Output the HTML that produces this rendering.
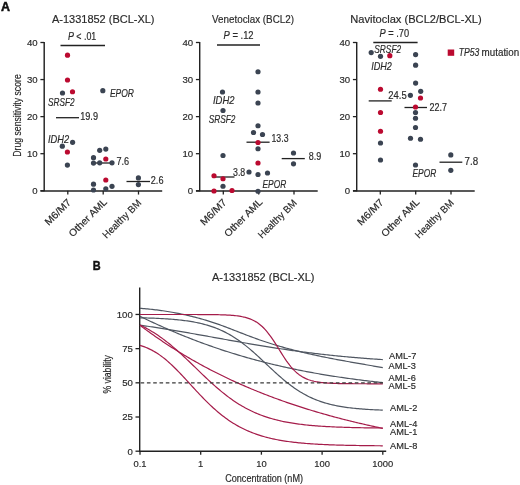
<!DOCTYPE html>
<html><head><meta charset="utf-8"><style>
html,body{margin:0;padding:0;background:#fff;}
svg{display:block;font-family:"Liberation Sans",sans-serif;}
text{fill:#2a2a2a;stroke:#2a2a2a;stroke-width:0.18px;}
</style></head><body>
<svg width="520" height="485" viewBox="0 0 520 485">
<rect width="520" height="485" fill="#fff"/>
<g opacity="0.999">
<text x="1.00" y="11.20" font-size="12.4" textLength="9.00" lengthAdjust="spacingAndGlyphs" font-weight="bold" style="fill:#111;stroke:#111;stroke-width:0.5px">A</text>
<line x1="44.20" y1="42.00" x2="44.20" y2="191.35" stroke="#222" stroke-width="1.45" />
<line x1="40.50" y1="191.00" x2="162.20" y2="191.00" stroke="#222" stroke-width="1.45" />
<line x1="40.40" y1="190.75" x2="44.20" y2="190.75" stroke="#222" stroke-width="1.3" />
<text x="37.70" y="194.05" font-size="9.6" text-anchor="end" >0</text>
<line x1="40.40" y1="153.69" x2="44.20" y2="153.69" stroke="#222" stroke-width="1.3" />
<text x="37.70" y="156.99" font-size="9.6" text-anchor="end" >10</text>
<line x1="40.40" y1="116.62" x2="44.20" y2="116.62" stroke="#222" stroke-width="1.3" />
<text x="37.70" y="119.92" font-size="9.6" text-anchor="end" >20</text>
<line x1="40.40" y1="79.56" x2="44.20" y2="79.56" stroke="#222" stroke-width="1.3" />
<text x="37.70" y="82.86" font-size="9.6" text-anchor="end" >30</text>
<line x1="40.40" y1="42.50" x2="44.20" y2="42.50" stroke="#222" stroke-width="1.3" />
<text x="37.70" y="45.80" font-size="9.6" text-anchor="end" >40</text>
<line x1="67.80" y1="190.75" x2="67.80" y2="194.55" stroke="#222" stroke-width="1.3" />
<line x1="103.20" y1="190.75" x2="103.20" y2="194.55" stroke="#222" stroke-width="1.3" />
<line x1="138.50" y1="190.75" x2="138.50" y2="194.55" stroke="#222" stroke-width="1.3" />
<text x="52.00" y="22.80" font-size="11.2" textLength="102.50" lengthAdjust="spacingAndGlyphs" >A-1331852 (BCL-XL)</text>
<text x="0" y="0" font-size="10" text-anchor="end" textLength="32.5" lengthAdjust="spacingAndGlyphs" transform="translate(71.80,203.05) rotate(-45)">M6/M7</text>
<text x="0" y="0" font-size="10" text-anchor="end" textLength="49.5" lengthAdjust="spacingAndGlyphs" transform="translate(107.70,202.55) rotate(-45)">Other AML</text>
<text x="0" y="0" font-size="10" text-anchor="end" textLength="50" lengthAdjust="spacingAndGlyphs" transform="translate(141.90,203.65) rotate(-45)">Healthy BM</text>
<line x1="199.70" y1="42.00" x2="199.70" y2="191.35" stroke="#222" stroke-width="1.45" />
<line x1="196.00" y1="191.00" x2="317.70" y2="191.00" stroke="#222" stroke-width="1.45" />
<line x1="195.90" y1="190.75" x2="199.70" y2="190.75" stroke="#222" stroke-width="1.3" />
<text x="193.20" y="194.05" font-size="9.6" text-anchor="end" >0</text>
<line x1="195.90" y1="153.69" x2="199.70" y2="153.69" stroke="#222" stroke-width="1.3" />
<text x="193.20" y="156.99" font-size="9.6" text-anchor="end" >10</text>
<line x1="195.90" y1="116.62" x2="199.70" y2="116.62" stroke="#222" stroke-width="1.3" />
<text x="193.20" y="119.92" font-size="9.6" text-anchor="end" >20</text>
<line x1="195.90" y1="79.56" x2="199.70" y2="79.56" stroke="#222" stroke-width="1.3" />
<text x="193.20" y="82.86" font-size="9.6" text-anchor="end" >30</text>
<line x1="195.90" y1="42.50" x2="199.70" y2="42.50" stroke="#222" stroke-width="1.3" />
<text x="193.20" y="45.80" font-size="9.6" text-anchor="end" >40</text>
<line x1="223.30" y1="190.75" x2="223.30" y2="194.55" stroke="#222" stroke-width="1.3" />
<line x1="258.70" y1="190.75" x2="258.70" y2="194.55" stroke="#222" stroke-width="1.3" />
<line x1="294.00" y1="190.75" x2="294.00" y2="194.55" stroke="#222" stroke-width="1.3" />
<text x="212.00" y="22.80" font-size="11.2" textLength="82.00" lengthAdjust="spacingAndGlyphs" >Venetoclax (BCL2)</text>
<text x="0" y="0" font-size="10" text-anchor="end" textLength="32.5" lengthAdjust="spacingAndGlyphs" transform="translate(227.30,203.05) rotate(-45)">M6/M7</text>
<text x="0" y="0" font-size="10" text-anchor="end" textLength="49.5" lengthAdjust="spacingAndGlyphs" transform="translate(263.20,202.55) rotate(-45)">Other AML</text>
<text x="0" y="0" font-size="10" text-anchor="end" textLength="50" lengthAdjust="spacingAndGlyphs" transform="translate(297.40,203.65) rotate(-45)">Healthy BM</text>
<line x1="356.70" y1="42.00" x2="356.70" y2="191.35" stroke="#222" stroke-width="1.45" />
<line x1="353.00" y1="191.00" x2="474.70" y2="191.00" stroke="#222" stroke-width="1.45" />
<line x1="352.90" y1="190.75" x2="356.70" y2="190.75" stroke="#222" stroke-width="1.3" />
<text x="350.20" y="194.05" font-size="9.6" text-anchor="end" >0</text>
<line x1="352.90" y1="153.69" x2="356.70" y2="153.69" stroke="#222" stroke-width="1.3" />
<text x="350.20" y="156.99" font-size="9.6" text-anchor="end" >10</text>
<line x1="352.90" y1="116.62" x2="356.70" y2="116.62" stroke="#222" stroke-width="1.3" />
<text x="350.20" y="119.92" font-size="9.6" text-anchor="end" >20</text>
<line x1="352.90" y1="79.56" x2="356.70" y2="79.56" stroke="#222" stroke-width="1.3" />
<text x="350.20" y="82.86" font-size="9.6" text-anchor="end" >30</text>
<line x1="352.90" y1="42.50" x2="356.70" y2="42.50" stroke="#222" stroke-width="1.3" />
<text x="350.20" y="45.80" font-size="9.6" text-anchor="end" >40</text>
<line x1="380.30" y1="190.75" x2="380.30" y2="194.55" stroke="#222" stroke-width="1.3" />
<line x1="415.70" y1="190.75" x2="415.70" y2="194.55" stroke="#222" stroke-width="1.3" />
<line x1="451.00" y1="190.75" x2="451.00" y2="194.55" stroke="#222" stroke-width="1.3" />
<text x="350.20" y="22.80" font-size="11.2" textLength="131.50" lengthAdjust="spacingAndGlyphs" >Navitoclax (BCL2/BCL-XL)</text>
<text x="0" y="0" font-size="10" text-anchor="end" textLength="32.5" lengthAdjust="spacingAndGlyphs" transform="translate(384.30,203.05) rotate(-45)">M6/M7</text>
<text x="0" y="0" font-size="10" text-anchor="end" textLength="49.5" lengthAdjust="spacingAndGlyphs" transform="translate(420.20,202.55) rotate(-45)">Other AML</text>
<text x="0" y="0" font-size="10" text-anchor="end" textLength="50" lengthAdjust="spacingAndGlyphs" transform="translate(454.40,203.65) rotate(-45)">Healthy BM</text>
<text x="0" y="0" font-size="11.6" text-anchor="middle" textLength="82.5" lengthAdjust="spacingAndGlyphs" transform="translate(20.7,115.5) rotate(-90)">Drug sensitivity score</text>
<line x1="60.50" y1="45.50" x2="105.00" y2="45.50" stroke="#222" stroke-width="1.3" />
<text x="67.90" y="40.10" font-size="10.2" textLength="28.40" lengthAdjust="spacingAndGlyphs" ><tspan font-style="italic">P</tspan> &lt; .01</text>
<line x1="217.00" y1="45.00" x2="260.00" y2="45.00" stroke="#222" stroke-width="1.3" />
<text x="223.60" y="38.70" font-size="10.2" textLength="30.00" lengthAdjust="spacingAndGlyphs" ><tspan font-style="italic">P</tspan> = .12</text>
<line x1="373.30" y1="42.50" x2="417.60" y2="42.50" stroke="#222" stroke-width="1.3" />
<text x="379.50" y="36.50" font-size="10.2" textLength="29.60" lengthAdjust="spacingAndGlyphs" ><tspan font-style="italic">P</tspan> = .70</text>
<line x1="56.00" y1="117.70" x2="79.00" y2="117.70" stroke="#222" stroke-width="1.3" />
<line x1="95.00" y1="163.00" x2="113.00" y2="163.00" stroke="#222" stroke-width="1.3" />
<line x1="126.50" y1="181.50" x2="150.00" y2="181.50" stroke="#222" stroke-width="1.3" />
<line x1="214.00" y1="177.00" x2="234.50" y2="177.00" stroke="#222" stroke-width="1.3" />
<line x1="246.50" y1="142.20" x2="269.60" y2="142.20" stroke="#222" stroke-width="1.3" />
<line x1="281.70" y1="158.60" x2="304.80" y2="158.60" stroke="#222" stroke-width="1.3" />
<line x1="368.70" y1="100.90" x2="391.70" y2="100.90" stroke="#222" stroke-width="1.3" />
<line x1="404.50" y1="107.50" x2="427.00" y2="107.50" stroke="#222" stroke-width="1.3" />
<line x1="439.50" y1="162.20" x2="462.30" y2="162.20" stroke="#222" stroke-width="1.3" />
<text x="80.20" y="119.80" font-size="10.2" textLength="17.80" lengthAdjust="spacingAndGlyphs" >19.9</text>
<text x="116.50" y="165.30" font-size="10.2" textLength="12.70" lengthAdjust="spacingAndGlyphs" >7.6</text>
<text x="150.80" y="184.30" font-size="10.2" textLength="12.70" lengthAdjust="spacingAndGlyphs" >2.6</text>
<text x="233.00" y="176.10" font-size="10.2" textLength="12.20" lengthAdjust="spacingAndGlyphs" >3.8</text>
<text x="271.50" y="141.50" font-size="10.2" textLength="17.00" lengthAdjust="spacingAndGlyphs" >13.3</text>
<text x="308.70" y="159.50" font-size="10.2" textLength="12.50" lengthAdjust="spacingAndGlyphs" >8.9</text>
<text x="388.30" y="98.70" font-size="10.2" textLength="18.40" lengthAdjust="spacingAndGlyphs" >24.5</text>
<text x="429.50" y="110.80" font-size="10.2" textLength="17.50" lengthAdjust="spacingAndGlyphs" >22.7</text>
<text x="464.60" y="165.00" font-size="10.2" textLength="13.60" lengthAdjust="spacingAndGlyphs" >7.8</text>
<circle cx="62.50" cy="93.00" r="2.6" fill="#3b4452"/>
<circle cx="102.80" cy="90.70" r="2.6" fill="#3b4452"/>
<circle cx="62.30" cy="146.20" r="2.6" fill="#3b4452"/>
<circle cx="72.60" cy="142.30" r="2.6" fill="#3b4452"/>
<circle cx="67.40" cy="165.10" r="2.6" fill="#3b4452"/>
<circle cx="99.70" cy="150.30" r="2.6" fill="#3b4452"/>
<circle cx="105.80" cy="149.10" r="2.6" fill="#3b4452"/>
<circle cx="93.50" cy="157.70" r="2.6" fill="#3b4452"/>
<circle cx="93.50" cy="163.10" r="2.6" fill="#3b4452"/>
<circle cx="99.70" cy="162.80" r="2.6" fill="#3b4452"/>
<circle cx="112.00" cy="162.80" r="2.6" fill="#3b4452"/>
<circle cx="93.50" cy="184.20" r="2.6" fill="#3b4452"/>
<circle cx="112.00" cy="186.30" r="2.6" fill="#3b4452"/>
<circle cx="93.50" cy="190.00" r="2.6" fill="#3b4452"/>
<circle cx="105.80" cy="188.80" r="2.6" fill="#3b4452"/>
<circle cx="138.40" cy="177.90" r="2.6" fill="#3b4452"/>
<circle cx="138.40" cy="184.60" r="2.6" fill="#3b4452"/>
<circle cx="67.50" cy="55.20" r="2.6" fill="#bb0a30"/>
<circle cx="67.50" cy="80.00" r="2.6" fill="#bb0a30"/>
<circle cx="72.50" cy="91.75" r="2.6" fill="#bb0a30"/>
<circle cx="67.40" cy="152.00" r="2.6" fill="#bb0a30"/>
<circle cx="105.80" cy="159.00" r="2.6" fill="#bb0a30"/>
<circle cx="105.80" cy="180.00" r="2.6" fill="#bb0a30"/>
<circle cx="222.50" cy="92.00" r="2.6" fill="#3b4452"/>
<circle cx="258.00" cy="71.75" r="2.6" fill="#3b4452"/>
<circle cx="258.00" cy="92.00" r="2.6" fill="#3b4452"/>
<circle cx="223.00" cy="110.50" r="2.6" fill="#3b4452"/>
<circle cx="223.00" cy="155.50" r="2.6" fill="#3b4452"/>
<circle cx="223.00" cy="186.25" r="2.6" fill="#3b4452"/>
<circle cx="258.00" cy="103.00" r="2.6" fill="#3b4452"/>
<circle cx="258.00" cy="125.75" r="2.6" fill="#3b4452"/>
<circle cx="253.50" cy="132.50" r="2.6" fill="#3b4452"/>
<circle cx="262.50" cy="134.50" r="2.6" fill="#3b4452"/>
<circle cx="258.00" cy="148.75" r="2.6" fill="#3b4452"/>
<circle cx="249.00" cy="172.00" r="2.6" fill="#3b4452"/>
<circle cx="258.00" cy="174.50" r="2.6" fill="#3b4452"/>
<circle cx="267.50" cy="173.00" r="2.6" fill="#3b4452"/>
<circle cx="258.00" cy="191.25" r="2.6" fill="#3b4452"/>
<circle cx="293.50" cy="153.00" r="2.6" fill="#3b4452"/>
<circle cx="293.50" cy="163.80" r="2.6" fill="#3b4452"/>
<circle cx="214.00" cy="175.75" r="2.6" fill="#bb0a30"/>
<circle cx="223.00" cy="178.75" r="2.6" fill="#bb0a30"/>
<circle cx="214.00" cy="191.00" r="2.6" fill="#bb0a30"/>
<circle cx="232.00" cy="190.50" r="2.6" fill="#bb0a30"/>
<circle cx="258.00" cy="142.50" r="2.6" fill="#bb0a30"/>
<circle cx="258.00" cy="163.00" r="2.6" fill="#bb0a30"/>
<circle cx="371.20" cy="52.60" r="2.6" fill="#3b4452"/>
<circle cx="380.50" cy="56.30" r="2.6" fill="#3b4452"/>
<circle cx="415.60" cy="54.60" r="2.6" fill="#3b4452"/>
<circle cx="415.60" cy="65.20" r="2.6" fill="#3b4452"/>
<circle cx="415.60" cy="83.10" r="2.6" fill="#3b4452"/>
<circle cx="420.70" cy="91.30" r="2.6" fill="#3b4452"/>
<circle cx="410.40" cy="95.30" r="2.6" fill="#3b4452"/>
<circle cx="415.50" cy="112.50" r="2.6" fill="#3b4452"/>
<circle cx="415.50" cy="118.25" r="2.6" fill="#3b4452"/>
<circle cx="415.50" cy="127.50" r="2.6" fill="#3b4452"/>
<circle cx="410.50" cy="138.25" r="2.6" fill="#3b4452"/>
<circle cx="420.50" cy="139.25" r="2.6" fill="#3b4452"/>
<circle cx="415.50" cy="165.00" r="2.6" fill="#3b4452"/>
<circle cx="380.50" cy="143.00" r="2.6" fill="#3b4452"/>
<circle cx="380.50" cy="160.00" r="2.6" fill="#3b4452"/>
<circle cx="450.80" cy="154.90" r="2.6" fill="#3b4452"/>
<circle cx="450.80" cy="170.30" r="2.6" fill="#3b4452"/>
<circle cx="389.80" cy="55.70" r="2.6" fill="#bb0a30"/>
<circle cx="380.50" cy="89.25" r="2.6" fill="#bb0a30"/>
<circle cx="380.50" cy="112.50" r="2.6" fill="#bb0a30"/>
<circle cx="380.50" cy="131.25" r="2.6" fill="#bb0a30"/>
<circle cx="420.50" cy="98.00" r="2.6" fill="#bb0a30"/>
<circle cx="415.50" cy="107.00" r="2.6" fill="#bb0a30"/>
<text x="48.00" y="106.10" font-size="10.4" textLength="26.50" lengthAdjust="spacingAndGlyphs" font-style="italic" >SRSF2</text>
<text x="48.00" y="142.80" font-size="10.4" textLength="21.20" lengthAdjust="spacingAndGlyphs" font-style="italic" >IDH2</text>
<text x="109.90" y="97.40" font-size="10.4" textLength="24.00" lengthAdjust="spacingAndGlyphs" font-style="italic" >EPOR</text>
<text x="213.00" y="104.10" font-size="10.4" textLength="21.50" lengthAdjust="spacingAndGlyphs" font-style="italic" >IDH2</text>
<text x="208.75" y="123.10" font-size="10.4" textLength="26.70" lengthAdjust="spacingAndGlyphs" font-style="italic" >SRSF2</text>
<text x="262.50" y="188.10" font-size="10.4" textLength="23.70" lengthAdjust="spacingAndGlyphs" font-style="italic" >EPOR</text>
<text x="374.30" y="52.50" font-size="10.4" textLength="26.80" lengthAdjust="spacingAndGlyphs" font-style="italic" >SRSF2</text>
<text x="371.20" y="69.60" font-size="10.4" textLength="20.70" lengthAdjust="spacingAndGlyphs" font-style="italic" >IDH2</text>
<text x="412.50" y="176.60" font-size="10.4" textLength="23.70" lengthAdjust="spacingAndGlyphs" font-style="italic" >EPOR</text>
<rect x="447.7" y="49.5" width="6.5" height="6.3" fill="#bb0a30"/>
<text x="458.80" y="55.90" font-size="10.6" textLength="20.60" lengthAdjust="spacingAndGlyphs" font-style="italic" >TP53</text>
<text x="481.60" y="55.90" font-size="10.3" textLength="37.60" lengthAdjust="spacingAndGlyphs" >mutation</text>
<text x="92.80" y="269.50" font-size="13.4" textLength="7.90" lengthAdjust="spacingAndGlyphs" font-weight="bold" style="fill:#111;stroke:#111;stroke-width:0.5px">B</text>
<text x="212.00" y="281.30" font-size="10.4" textLength="102.50" lengthAdjust="spacingAndGlyphs" >A-1331852 (BCL-XL)</text>
<line x1="139.70" y1="287.50" x2="139.70" y2="451.70" stroke="#222" stroke-width="1.4" />
<line x1="139.00" y1="451.20" x2="386.20" y2="451.20" stroke="#222" stroke-width="1.4" />
<line x1="135.50" y1="451.20" x2="140.00" y2="451.20" stroke="#222" stroke-width="1.3" />
<text x="132.80" y="454.60" font-size="9.6" text-anchor="end" >0</text>
<line x1="135.50" y1="417.01" x2="140.00" y2="417.01" stroke="#222" stroke-width="1.3" />
<text x="132.80" y="420.41" font-size="9.6" text-anchor="end" >25</text>
<line x1="135.50" y1="382.82" x2="140.00" y2="382.82" stroke="#222" stroke-width="1.3" />
<text x="132.80" y="386.22" font-size="9.6" text-anchor="end" >50</text>
<line x1="135.50" y1="348.64" x2="140.00" y2="348.64" stroke="#222" stroke-width="1.3" />
<text x="132.80" y="352.04" font-size="9.6" text-anchor="end" >75</text>
<line x1="135.50" y1="314.45" x2="140.00" y2="314.45" stroke="#222" stroke-width="1.3" />
<text x="132.80" y="317.85" font-size="9.6" text-anchor="end" >100</text>
<line x1="140.00" y1="451.20" x2="140.00" y2="454.70" stroke="#222" stroke-width="1.3" />
<text x="140.00" y="467.00" font-size="9.4" text-anchor="middle" >0.1</text>
<line x1="200.70" y1="451.20" x2="200.70" y2="454.70" stroke="#222" stroke-width="1.3" />
<text x="200.70" y="467.00" font-size="9.4" text-anchor="middle" >1</text>
<line x1="261.40" y1="451.20" x2="261.40" y2="454.70" stroke="#222" stroke-width="1.3" />
<text x="261.40" y="467.00" font-size="9.4" text-anchor="middle" >10</text>
<line x1="322.10" y1="451.20" x2="322.10" y2="454.70" stroke="#222" stroke-width="1.3" />
<text x="322.10" y="467.00" font-size="9.4" text-anchor="middle" >100</text>
<line x1="382.80" y1="451.20" x2="382.80" y2="454.70" stroke="#222" stroke-width="1.3" />
<text x="382.80" y="467.00" font-size="9.4" text-anchor="middle" >1000</text>
<text x="0" y="0" font-size="11" text-anchor="middle" textLength="38.5" lengthAdjust="spacingAndGlyphs" transform="translate(111,374.3) rotate(-90)">% viability</text>
<text x="225.20" y="482.00" font-size="10" textLength="77.80" lengthAdjust="spacingAndGlyphs" >Concentration (nM)</text>
<path d="M140.00,308.33 L141.53,308.44 L143.05,308.56 L144.58,308.69 L146.11,308.82 L147.64,308.96 L149.16,309.11 L150.69,309.26 L152.22,309.43 L153.74,309.60 L155.27,309.78 L156.80,309.96 L158.32,310.15 L159.85,310.36 L161.38,310.56 L162.91,310.78 L164.43,311.00 L165.96,311.24 L167.49,311.48 L169.01,311.72 L170.54,311.98 L172.07,312.24 L173.59,312.52 L175.12,312.80 L176.65,313.09 L178.18,313.38 L179.70,313.69 L181.23,314.00 L182.76,314.32 L184.28,314.65 L185.81,314.99 L187.34,315.34 L188.87,315.69 L190.39,316.06 L191.92,316.43 L193.45,316.81 L194.97,317.20 L196.50,317.60 L198.03,318.01 L199.55,318.43 L201.08,318.86 L202.61,319.29 L204.14,319.74 L205.66,320.19 L207.19,320.65 L208.72,321.12 L210.24,321.60 L211.77,322.10 L213.30,322.59 L214.83,323.10 L216.35,323.62 L217.88,324.15 L219.41,324.69 L220.93,325.23 L222.46,325.79 L223.99,326.35 L225.51,326.92 L227.04,327.50 L228.57,328.08 L230.10,328.66 L231.62,329.25 L233.15,329.84 L234.68,330.44 L236.20,331.03 L237.73,331.63 L239.26,332.23 L240.78,332.82 L242.31,333.42 L243.84,334.01 L245.37,334.60 L246.89,335.19 L248.42,335.78 L249.95,336.36 L251.47,336.93 L253.00,337.50 L254.53,338.06 L256.06,338.62 L257.58,339.16 L259.11,339.70 L260.64,340.23 L262.16,340.76 L263.69,341.27 L265.22,341.78 L266.74,342.29 L268.27,342.78 L269.80,343.27 L271.33,343.75 L272.85,344.23 L274.38,344.70 L275.91,345.16 L277.43,345.61 L278.96,346.06 L280.49,346.51 L282.02,346.95 L283.54,347.38 L285.07,347.80 L286.60,348.22 L288.12,348.64 L289.65,349.05 L291.18,349.45 L292.70,349.85 L294.23,350.24 L295.76,350.63 L297.29,351.01 L298.81,351.39 L300.34,351.76 L301.87,352.13 L303.39,352.50 L304.92,352.86 L306.45,353.21 L307.97,353.56 L309.50,353.91 L311.03,354.25 L312.56,354.59 L314.08,354.92 L315.61,355.25 L317.14,355.58 L318.66,355.90 L320.19,356.22 L321.72,356.54 L323.25,356.86 L324.77,357.17 L326.30,357.47 L327.83,357.78 L329.35,358.08 L330.88,358.38 L332.41,358.67 L333.93,358.97 L335.46,359.26 L336.99,359.55 L338.52,359.83 L340.04,360.12 L341.57,360.40 L343.10,360.68 L344.62,360.96 L346.15,361.23 L347.68,361.51 L349.21,361.78 L350.73,362.06 L352.26,362.33 L353.79,362.60 L355.31,362.86 L356.84,363.13 L358.37,363.40 L359.89,363.66 L361.42,363.93 L362.95,364.19 L364.48,364.46 L366.00,364.72 L367.53,364.99 L369.06,365.25 L370.58,365.51 L372.11,365.77 L373.64,366.04 L375.16,366.30 L376.69,366.56 L378.22,366.83 L379.75,367.09 L381.27,367.36 L382.80,367.62" fill="none" stroke="#4f5661" stroke-width="1.2" stroke-linejoin="round"/>
<path d="M140.00,325.19 L141.53,325.40 L143.05,325.62 L144.58,325.84 L146.11,326.06 L147.64,326.28 L149.16,326.51 L150.69,326.74 L152.22,326.96 L153.74,327.20 L155.27,327.43 L156.80,327.66 L158.32,327.90 L159.85,328.14 L161.38,328.38 L162.91,328.62 L164.43,328.86 L165.96,329.11 L167.49,329.35 L169.01,329.60 L170.54,329.85 L172.07,330.10 L173.59,330.35 L175.12,330.61 L176.65,330.86 L178.18,331.12 L179.70,331.38 L181.23,331.64 L182.76,331.90 L184.28,332.16 L185.81,332.42 L187.34,332.69 L188.87,332.95 L190.39,333.22 L191.92,333.49 L193.45,333.76 L194.97,334.02 L196.50,334.29 L198.03,334.56 L199.55,334.84 L201.08,335.11 L202.61,335.38 L204.14,335.65 L205.66,335.93 L207.19,336.20 L208.72,336.47 L210.24,336.75 L211.77,337.02 L213.30,337.30 L214.83,337.57 L216.35,337.85 L217.88,338.12 L219.41,338.40 L220.93,338.67 L222.46,338.95 L223.99,339.22 L225.51,339.50 L227.04,339.77 L228.57,340.04 L230.10,340.32 L231.62,340.59 L233.15,340.86 L234.68,341.13 L236.20,341.40 L237.73,341.67 L239.26,341.94 L240.78,342.21 L242.31,342.48 L243.84,342.74 L245.37,343.01 L246.89,343.28 L248.42,343.54 L249.95,343.80 L251.47,344.06 L253.00,344.32 L254.53,344.58 L256.06,344.84 L257.58,345.10 L259.11,345.35 L260.64,345.60 L262.16,345.86 L263.69,346.11 L265.22,346.36 L266.74,346.60 L268.27,346.85 L269.80,347.09 L271.33,347.34 L272.85,347.58 L274.38,347.82 L275.91,348.05 L277.43,348.29 L278.96,348.52 L280.49,348.75 L282.02,348.98 L283.54,349.21 L285.07,349.44 L286.60,349.66 L288.12,349.88 L289.65,350.10 L291.18,350.32 L292.70,350.54 L294.23,350.75 L295.76,350.96 L297.29,351.17 L298.81,351.38 L300.34,351.59 L301.87,351.79 L303.39,351.99 L304.92,352.19 L306.45,352.39 L307.97,352.58 L309.50,352.78 L311.03,352.97 L312.56,353.16 L314.08,353.34 L315.61,353.53 L317.14,353.71 L318.66,353.89 L320.19,354.07 L321.72,354.24 L323.25,354.42 L324.77,354.59 L326.30,354.76 L327.83,354.92 L329.35,355.09 L330.88,355.25 L332.41,355.41 L333.93,355.57 L335.46,355.73 L336.99,355.88 L338.52,356.03 L340.04,356.18 L341.57,356.33 L343.10,356.48 L344.62,356.62 L346.15,356.76 L347.68,356.91 L349.21,357.04 L350.73,357.18 L352.26,357.31 L353.79,357.45 L355.31,357.58 L356.84,357.70 L358.37,357.83 L359.89,357.96 L361.42,358.08 L362.95,358.20 L364.48,358.32 L366.00,358.44 L367.53,358.55 L369.06,358.67 L370.58,358.78 L372.11,358.89 L373.64,359.00 L375.16,359.10 L376.69,359.21 L378.22,359.31 L379.75,359.41 L381.27,359.51 L382.80,359.61" fill="none" stroke="#4f5661" stroke-width="1.2" stroke-linejoin="round"/>
<path d="M140.00,317.78 L141.53,317.82 L143.05,317.86 L144.58,317.90 L146.11,317.94 L147.64,317.99 L149.16,318.04 L150.69,318.09 L152.22,318.14 L153.74,318.20 L155.27,318.27 L156.80,318.33 L158.32,318.40 L159.85,318.48 L161.38,318.56 L162.91,318.64 L164.43,318.73 L165.96,318.83 L167.49,318.93 L169.01,319.03 L170.54,319.15 L172.07,319.27 L173.59,319.40 L175.12,319.53 L176.65,319.68 L178.18,319.83 L179.70,319.99 L181.23,320.16 L182.76,320.34 L184.28,320.53 L185.81,320.74 L187.34,320.95 L188.87,321.18 L190.39,321.42 L191.92,321.67 L193.45,321.94 L194.97,322.23 L196.50,322.53 L198.03,322.84 L199.55,323.18 L201.08,323.53 L202.61,323.90 L204.14,324.30 L205.66,324.71 L207.19,325.15 L208.72,325.60 L210.24,326.09 L211.77,326.59 L213.30,327.12 L214.83,327.68 L216.35,328.27 L217.88,328.88 L219.41,329.52 L220.93,330.20 L222.46,330.90 L223.99,331.63 L225.51,332.40 L227.04,333.20 L228.57,334.03 L230.10,334.89 L231.62,335.79 L233.15,336.72 L234.68,337.69 L236.20,338.69 L237.73,339.73 L239.26,340.79 L240.78,341.90 L242.31,343.03 L243.84,344.19 L245.37,345.39 L246.89,346.62 L248.42,347.87 L249.95,349.15 L251.47,350.46 L253.00,351.79 L254.53,353.14 L256.06,354.51 L257.58,355.90 L259.11,357.30 L260.64,358.72 L262.16,360.14 L263.69,361.57 L265.22,363.01 L266.74,364.45 L268.27,365.89 L269.80,367.33 L271.33,368.76 L272.85,370.18 L274.38,371.59 L275.91,372.98 L277.43,374.36 L278.96,375.72 L280.49,377.06 L282.02,378.38 L283.54,379.68 L285.07,380.94 L286.60,382.18 L288.12,383.39 L289.65,384.57 L291.18,385.72 L292.70,386.84 L294.23,387.93 L295.76,388.98 L297.29,389.99 L298.81,390.98 L300.34,391.93 L301.87,392.84 L303.39,393.72 L304.92,394.57 L306.45,395.39 L307.97,396.17 L309.50,396.92 L311.03,397.64 L312.56,398.33 L314.08,398.98 L315.61,399.61 L317.14,400.21 L318.66,400.78 L320.19,401.33 L321.72,401.85 L323.25,402.34 L324.77,402.81 L326.30,403.26 L327.83,403.68 L329.35,404.08 L330.88,404.47 L332.41,404.83 L333.93,405.17 L335.46,405.50 L336.99,405.81 L338.52,406.10 L340.04,406.37 L341.57,406.64 L343.10,406.88 L344.62,407.12 L346.15,407.34 L347.68,407.55 L349.21,407.74 L350.73,407.93 L352.26,408.11 L353.79,408.27 L355.31,408.43 L356.84,408.58 L358.37,408.72 L359.89,408.85 L361.42,408.97 L362.95,409.09 L364.48,409.20 L366.00,409.30 L367.53,409.40 L369.06,409.49 L370.58,409.58 L372.11,409.66 L373.64,409.74 L375.16,409.81 L376.69,409.88 L378.22,409.95 L379.75,410.01 L381.27,410.06 L382.80,410.12" fill="none" stroke="#4f5661" stroke-width="1.2" stroke-linejoin="round"/>
<path d="M140.00,316.31 L141.53,317.06 L143.05,317.79 L144.58,318.53 L146.11,319.26 L147.64,319.98 L149.16,320.70 L150.69,321.42 L152.22,322.13 L153.74,322.84 L155.27,323.55 L156.80,324.25 L158.32,324.94 L159.85,325.63 L161.38,326.32 L162.91,327.00 L164.43,327.68 L165.96,328.35 L167.49,329.02 L169.01,329.69 L170.54,330.35 L172.07,331.00 L173.59,331.65 L175.12,332.30 L176.65,332.94 L178.18,333.58 L179.70,334.21 L181.23,334.84 L182.76,335.46 L184.28,336.08 L185.81,336.69 L187.34,337.30 L188.87,337.91 L190.39,338.51 L191.92,339.10 L193.45,339.70 L194.97,340.28 L196.50,340.86 L198.03,341.44 L199.55,342.01 L201.08,342.58 L202.61,343.15 L204.14,343.71 L205.66,344.26 L207.19,344.81 L208.72,345.36 L210.24,345.90 L211.77,346.43 L213.30,346.96 L214.83,347.49 L216.35,348.02 L217.88,348.53 L219.41,349.05 L220.93,349.56 L222.46,350.06 L223.99,350.56 L225.51,351.06 L227.04,351.55 L228.57,352.04 L230.10,352.52 L231.62,353.00 L233.15,353.47 L234.68,353.94 L236.20,354.41 L237.73,354.87 L239.26,355.33 L240.78,355.78 L242.31,356.23 L243.84,356.67 L245.37,357.11 L246.89,357.55 L248.42,357.98 L249.95,358.41 L251.47,358.83 L253.00,359.25 L254.53,359.67 L256.06,360.08 L257.58,360.49 L259.11,360.89 L260.64,361.29 L262.16,361.69 L263.69,362.08 L265.22,362.47 L266.74,362.85 L268.27,363.23 L269.80,363.61 L271.33,363.98 L272.85,364.35 L274.38,364.71 L275.91,365.07 L277.43,365.43 L278.96,365.78 L280.49,366.13 L282.02,366.48 L283.54,366.82 L285.07,367.16 L286.60,367.50 L288.12,367.83 L289.65,368.16 L291.18,368.49 L292.70,368.81 L294.23,369.13 L295.76,369.44 L297.29,369.75 L298.81,370.06 L300.34,370.37 L301.87,370.67 L303.39,370.97 L304.92,371.26 L306.45,371.55 L307.97,371.84 L309.50,372.13 L311.03,372.41 L312.56,372.69 L314.08,372.97 L315.61,373.24 L317.14,373.51 L318.66,373.78 L320.19,374.04 L321.72,374.30 L323.25,374.56 L324.77,374.82 L326.30,375.07 L327.83,375.32 L329.35,375.57 L330.88,375.81 L332.41,376.05 L333.93,376.29 L335.46,376.53 L336.99,376.76 L338.52,376.99 L340.04,377.22 L341.57,377.44 L343.10,377.67 L344.62,377.89 L346.15,378.11 L347.68,378.32 L349.21,378.53 L350.73,378.74 L352.26,378.95 L353.79,379.16 L355.31,379.36 L356.84,379.56 L358.37,379.76 L359.89,379.96 L361.42,380.15 L362.95,380.34 L364.48,380.53 L366.00,380.72 L367.53,380.90 L369.06,381.09 L370.58,381.27 L372.11,381.44 L373.64,381.62 L375.16,381.79 L376.69,381.97 L378.22,382.14 L379.75,382.30 L381.27,382.47 L382.80,382.63" fill="none" stroke="#4f5661" stroke-width="1.2" stroke-linejoin="round"/>
<path d="M140.00,314.49 L141.53,314.49 L143.05,314.49 L144.58,314.49 L146.11,314.49 L147.64,314.49 L149.16,314.49 L150.69,314.49 L152.22,314.49 L153.74,314.49 L155.27,314.49 L156.80,314.49 L158.32,314.49 L159.85,314.49 L161.38,314.49 L162.91,314.49 L164.43,314.49 L165.96,314.49 L167.49,314.49 L169.01,314.49 L170.54,314.49 L172.07,314.49 L173.59,314.49 L175.12,314.49 L176.65,314.49 L178.18,314.49 L179.70,314.50 L181.23,314.50 L182.76,314.50 L184.28,314.50 L185.81,314.50 L187.34,314.50 L188.87,314.50 L190.39,314.51 L191.92,314.51 L193.45,314.51 L194.97,314.52 L196.50,314.52 L198.03,314.53 L199.55,314.53 L201.08,314.54 L202.61,314.55 L204.14,314.55 L205.66,314.56 L207.19,314.58 L208.72,314.59 L210.24,314.60 L211.77,314.62 L213.30,314.64 L214.83,314.67 L216.35,314.69 L217.88,314.72 L219.41,314.76 L220.93,314.80 L222.46,314.85 L223.99,314.90 L225.51,314.97 L227.04,315.04 L228.57,315.12 L230.10,315.22 L231.62,315.33 L233.15,315.46 L234.68,315.60 L236.20,315.77 L237.73,315.96 L239.26,316.18 L240.78,316.43 L242.31,316.72 L243.84,317.04 L245.37,317.42 L246.89,317.84 L248.42,318.33 L249.95,318.87 L251.47,319.50 L253.00,320.20 L254.53,320.99 L256.06,321.87 L257.58,322.86 L259.11,323.97 L260.64,325.19 L262.16,326.54 L263.69,328.02 L265.22,329.64 L266.74,331.39 L268.27,333.27 L269.80,335.28 L271.33,337.40 L272.85,339.63 L274.38,341.95 L275.91,344.34 L277.43,346.77 L278.96,349.23 L280.49,351.69 L282.02,354.12 L283.54,356.50 L285.07,358.81 L286.60,361.04 L288.12,363.15 L289.65,365.15 L291.18,367.02 L292.70,368.76 L294.23,370.37 L295.76,371.84 L297.29,373.18 L298.81,374.40 L300.34,375.49 L301.87,376.48 L303.39,377.36 L304.92,378.14 L306.45,378.83 L307.97,379.45 L309.50,379.99 L311.03,380.47 L312.56,380.89 L314.08,381.27 L315.61,381.59 L317.14,381.87 L318.66,382.12 L320.19,382.34 L321.72,382.53 L323.25,382.69 L324.77,382.84 L326.30,382.96 L327.83,383.07 L329.35,383.17 L330.88,383.25 L332.41,383.32 L333.93,383.38 L335.46,383.44 L336.99,383.48 L338.52,383.53 L340.04,383.56 L341.57,383.59 L343.10,383.62 L344.62,383.64 L346.15,383.66 L347.68,383.68 L349.21,383.70 L350.73,383.71 L352.26,383.72 L353.79,383.73 L355.31,383.74 L356.84,383.75 L358.37,383.75 L359.89,383.76 L361.42,383.76 L362.95,383.77 L364.48,383.77 L366.00,383.77 L367.53,383.78 L369.06,383.78 L370.58,383.78 L372.11,383.78 L373.64,383.78 L375.16,383.79 L376.69,383.79 L378.22,383.79 L379.75,383.79 L381.27,383.79 L382.80,383.79" fill="none" stroke="#a51c4a" stroke-width="1.2" stroke-linejoin="round"/>
<path d="M140.00,325.06 L141.53,325.79 L143.05,326.55 L144.58,327.33 L146.11,328.14 L147.64,328.98 L149.16,329.84 L150.69,330.73 L152.22,331.65 L153.74,332.60 L155.27,333.58 L156.80,334.58 L158.32,335.61 L159.85,336.67 L161.38,337.76 L162.91,338.87 L164.43,340.01 L165.96,341.18 L167.49,342.37 L169.01,343.59 L170.54,344.83 L172.07,346.10 L173.59,347.39 L175.12,348.70 L176.65,350.04 L178.18,351.39 L179.70,352.76 L181.23,354.15 L182.76,355.56 L184.28,356.98 L185.81,358.41 L187.34,359.86 L188.87,361.31 L190.39,362.77 L191.92,364.24 L193.45,365.72 L194.97,367.19 L196.50,368.67 L198.03,370.15 L199.55,371.62 L201.08,373.10 L202.61,374.56 L204.14,376.02 L205.66,377.47 L207.19,378.90 L208.72,380.33 L210.24,381.74 L211.77,383.13 L213.30,384.51 L214.83,385.87 L216.35,387.21 L217.88,388.53 L219.41,389.83 L220.93,391.10 L222.46,392.35 L223.99,393.58 L225.51,394.78 L227.04,395.96 L228.57,397.11 L230.10,398.23 L231.62,399.33 L233.15,400.39 L234.68,401.43 L236.20,402.45 L237.73,403.43 L239.26,404.39 L240.78,405.31 L242.31,406.21 L243.84,407.09 L245.37,407.93 L246.89,408.75 L248.42,409.54 L249.95,410.31 L251.47,411.05 L253.00,411.76 L254.53,412.45 L256.06,413.12 L257.58,413.76 L259.11,414.38 L260.64,414.97 L262.16,415.54 L263.69,416.09 L265.22,416.62 L266.74,417.13 L268.27,417.62 L269.80,418.09 L271.33,418.54 L272.85,418.97 L274.38,419.39 L275.91,419.79 L277.43,420.17 L278.96,420.53 L280.49,420.88 L282.02,421.22 L283.54,421.54 L285.07,421.85 L286.60,422.14 L288.12,422.42 L289.65,422.69 L291.18,422.95 L292.70,423.20 L294.23,423.43 L295.76,423.66 L297.29,423.87 L298.81,424.08 L300.34,424.28 L301.87,424.46 L303.39,424.64 L304.92,424.81 L306.45,424.98 L307.97,425.13 L309.50,425.28 L311.03,425.42 L312.56,425.56 L314.08,425.69 L315.61,425.81 L317.14,425.93 L318.66,426.04 L320.19,426.15 L321.72,426.25 L323.25,426.35 L324.77,426.44 L326.30,426.53 L327.83,426.62 L329.35,426.70 L330.88,426.77 L332.41,426.85 L333.93,426.92 L335.46,426.98 L336.99,427.05 L338.52,427.11 L340.04,427.16 L341.57,427.22 L343.10,427.27 L344.62,427.32 L346.15,427.37 L347.68,427.41 L349.21,427.46 L350.73,427.50 L352.26,427.54 L353.79,427.57 L355.31,427.61 L356.84,427.64 L358.37,427.68 L359.89,427.71 L361.42,427.74 L362.95,427.76 L364.48,427.79 L366.00,427.82 L367.53,427.84 L369.06,427.86 L370.58,427.88 L372.11,427.91 L373.64,427.92 L375.16,427.94 L376.69,427.96 L378.22,427.98 L379.75,428.00 L381.27,428.01 L382.80,428.03" fill="none" stroke="#a51c4a" stroke-width="1.2" stroke-linejoin="round"/>
<path d="M140.00,325.32 L141.53,326.47 L143.05,327.62 L144.58,328.75 L146.11,329.87 L147.64,330.99 L149.16,332.09 L150.69,333.19 L152.22,334.27 L153.74,335.35 L155.27,336.42 L156.80,337.48 L158.32,338.53 L159.85,339.58 L161.38,340.61 L162.91,341.64 L164.43,342.66 L165.96,343.67 L167.49,344.67 L169.01,345.67 L170.54,346.65 L172.07,347.63 L173.59,348.60 L175.12,349.56 L176.65,350.52 L178.18,351.46 L179.70,352.40 L181.23,353.33 L182.76,354.26 L184.28,355.17 L185.81,356.08 L187.34,356.98 L188.87,357.88 L190.39,358.77 L191.92,359.65 L193.45,360.52 L194.97,361.38 L196.50,362.24 L198.03,363.09 L199.55,363.94 L201.08,364.78 L202.61,365.61 L204.14,366.43 L205.66,367.25 L207.19,368.06 L208.72,368.87 L210.24,369.66 L211.77,370.46 L213.30,371.24 L214.83,372.02 L216.35,372.79 L217.88,373.56 L219.41,374.32 L220.93,375.07 L222.46,375.82 L223.99,376.56 L225.51,377.30 L227.04,378.03 L228.57,378.75 L230.10,379.47 L231.62,380.18 L233.15,380.89 L234.68,381.59 L236.20,382.28 L237.73,382.97 L239.26,383.65 L240.78,384.33 L242.31,385.00 L243.84,385.67 L245.37,386.33 L246.89,386.99 L248.42,387.64 L249.95,388.29 L251.47,388.93 L253.00,389.56 L254.53,390.19 L256.06,390.82 L257.58,391.44 L259.11,392.05 L260.64,392.66 L262.16,393.27 L263.69,393.87 L265.22,394.46 L266.74,395.05 L268.27,395.64 L269.80,396.22 L271.33,396.80 L272.85,397.37 L274.38,397.94 L275.91,398.50 L277.43,399.06 L278.96,399.61 L280.49,400.16 L282.02,400.70 L283.54,401.24 L285.07,401.78 L286.60,402.31 L288.12,402.83 L289.65,403.36 L291.18,403.88 L292.70,404.39 L294.23,404.90 L295.76,405.41 L297.29,405.91 L298.81,406.40 L300.34,406.90 L301.87,407.39 L303.39,407.87 L304.92,408.36 L306.45,408.83 L307.97,409.31 L309.50,409.78 L311.03,410.24 L312.56,410.71 L314.08,411.16 L315.61,411.62 L317.14,412.07 L318.66,412.52 L320.19,412.96 L321.72,413.40 L323.25,413.84 L324.77,414.27 L326.30,414.70 L327.83,415.13 L329.35,415.55 L330.88,415.97 L332.41,416.39 L333.93,416.80 L335.46,417.21 L336.99,417.62 L338.52,418.02 L340.04,418.42 L341.57,418.81 L343.10,419.21 L344.62,419.60 L346.15,419.98 L347.68,420.37 L349.21,420.75 L350.73,421.12 L352.26,421.50 L353.79,421.87 L355.31,422.24 L356.84,422.60 L358.37,422.96 L359.89,423.32 L361.42,423.68 L362.95,424.03 L364.48,424.38 L366.00,424.73 L367.53,425.08 L369.06,425.42 L370.58,425.76 L372.11,426.10 L373.64,426.43 L375.16,426.76 L376.69,427.09 L378.22,427.41 L379.75,427.74 L381.27,428.06 L382.80,428.38" fill="none" stroke="#a51c4a" stroke-width="1.2" stroke-linejoin="round"/>
<path d="M140.00,345.36 L141.53,345.84 L143.05,346.35 L144.58,346.91 L146.11,347.51 L147.64,348.15 L149.16,348.85 L150.69,349.59 L152.22,350.38 L153.74,351.23 L155.27,352.12 L156.80,353.07 L158.32,354.07 L159.85,355.12 L161.38,356.22 L162.91,357.37 L164.43,358.57 L165.96,359.82 L167.49,361.12 L169.01,362.46 L170.54,363.84 L172.07,365.27 L173.59,366.73 L175.12,368.22 L176.65,369.75 L178.18,371.31 L179.70,372.89 L181.23,374.50 L182.76,376.12 L184.28,377.77 L185.81,379.42 L187.34,381.08 L188.87,382.75 L190.39,384.42 L191.92,386.09 L193.45,387.76 L194.97,389.42 L196.50,391.07 L198.03,392.71 L199.55,394.33 L201.08,395.94 L202.61,397.53 L204.14,399.09 L205.66,400.64 L207.19,402.15 L208.72,403.64 L210.24,405.10 L211.77,406.54 L213.30,407.94 L214.83,409.31 L216.35,410.65 L217.88,411.95 L219.41,413.22 L220.93,414.46 L222.46,415.67 L223.99,416.84 L225.51,417.97 L227.04,419.07 L228.57,420.14 L230.10,421.18 L231.62,422.18 L233.15,423.15 L234.68,424.08 L236.20,424.98 L237.73,425.86 L239.26,426.70 L240.78,427.51 L242.31,428.29 L243.84,429.04 L245.37,429.77 L246.89,430.47 L248.42,431.14 L249.95,431.78 L251.47,432.40 L253.00,432.99 L254.53,433.56 L256.06,434.11 L257.58,434.64 L259.11,435.14 L260.64,435.63 L262.16,436.09 L263.69,436.53 L265.22,436.96 L266.74,437.37 L268.27,437.76 L269.80,438.13 L271.33,438.49 L272.85,438.83 L274.38,439.16 L275.91,439.47 L277.43,439.77 L278.96,440.05 L280.49,440.33 L282.02,440.59 L283.54,440.84 L285.07,441.08 L286.60,441.30 L288.12,441.52 L289.65,441.73 L291.18,441.93 L292.70,442.12 L294.23,442.30 L295.76,442.47 L297.29,442.64 L298.81,442.79 L300.34,442.94 L301.87,443.09 L303.39,443.22 L304.92,443.35 L306.45,443.48 L307.97,443.60 L309.50,443.71 L311.03,443.82 L312.56,443.92 L314.08,444.02 L315.61,444.11 L317.14,444.20 L318.66,444.29 L320.19,444.37 L321.72,444.45 L323.25,444.52 L324.77,444.59 L326.30,444.66 L327.83,444.72 L329.35,444.78 L330.88,444.84 L332.41,444.90 L333.93,444.95 L335.46,445.00 L336.99,445.05 L338.52,445.09 L340.04,445.14 L341.57,445.18 L343.10,445.22 L344.62,445.25 L346.15,445.29 L347.68,445.32 L349.21,445.36 L350.73,445.39 L352.26,445.42 L353.79,445.45 L355.31,445.47 L356.84,445.50 L358.37,445.52 L359.89,445.55 L361.42,445.57 L362.95,445.59 L364.48,445.61 L366.00,445.63 L367.53,445.65 L369.06,445.66 L370.58,445.68 L372.11,445.70 L373.64,445.71 L375.16,445.73 L376.69,445.74 L378.22,445.75 L379.75,445.77 L381.27,445.78 L382.80,445.79" fill="none" stroke="#a51c4a" stroke-width="1.2" stroke-linejoin="round"/>
<line x1="140.60" y1="382.82" x2="383.00" y2="382.82" stroke="#3a3a3a" stroke-width="1.2" stroke-dasharray="3.6 2.7"/>
<text x="389.10" y="359.20" font-size="9.8" textLength="27.20" lengthAdjust="spacingAndGlyphs" >AML-7</text>
<text x="388.60" y="369.10" font-size="9.8" textLength="27.20" lengthAdjust="spacingAndGlyphs" >AML-3</text>
<text x="388.60" y="381.20" font-size="9.8" textLength="27.20" lengthAdjust="spacingAndGlyphs" >AML-6</text>
<text x="388.60" y="389.20" font-size="9.8" textLength="27.20" lengthAdjust="spacingAndGlyphs" >AML-5</text>
<text x="390.10" y="410.80" font-size="9.8" textLength="27.20" lengthAdjust="spacingAndGlyphs" >AML-2</text>
<text x="390.10" y="427.10" font-size="9.8" textLength="27.20" lengthAdjust="spacingAndGlyphs" >AML-4</text>
<text x="390.10" y="435.20" font-size="9.8" textLength="27.20" lengthAdjust="spacingAndGlyphs" >AML-1</text>
<text x="390.10" y="449.40" font-size="9.8" textLength="27.20" lengthAdjust="spacingAndGlyphs" >AML-8</text>
</g>
</svg>
</body></html>
